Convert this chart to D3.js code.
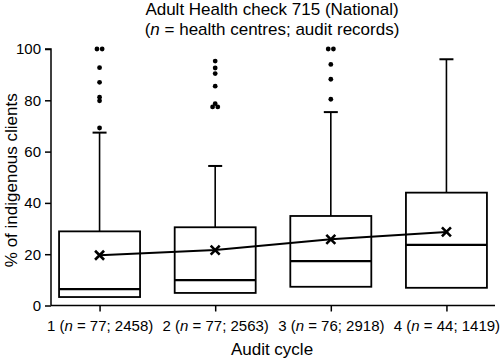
<!DOCTYPE html>
<html><head><meta charset="utf-8">
<script src="https://cdn.jsdelivr.net/npm/d3@7"></script>
<style>body{margin:0;background:#fff}svg{display:block}text{font-family:"Liberation Sans",Arial,sans-serif;fill:#000}</style>
</head><body>
<script>
const categories = ["1", "2", "3", "4"];
const centres = [77, 77, 76, 44];
const records = [2458, 2563, 2918, 1419];
const q1 = [3.3, 4.9, 7.3, 6.9];
const median = [6.4, 9.9, 17.3, 23.6];
const q3 = [28.9, 30.5, 34.9, 44.0];
const whiskerHigh = [67.4, 54.4, 75.4, 96.0];
const means = [19.6, 21.6, 25.8, 28.7];
// outliers: category index, value, horizontal offset group
const outlierCat = [0,0,0,0,0,0,0, 1,1,1,1,1,1,1, 2,2,2,2,2];
const outlierVal = [100,100,92.7,87,81.2,79.8,69.2, 95.3,92.6,90.4,85.5,78.7,77.4,77.4, 100,100,94,88.2,80.4];
const outlierOff = [-1,1,0,0,0,0,0, 0,0,0,0,0,-1,1, -1,1,0,0,0];
const yTicks = [0, 20, 40, 60, 80, 100];

const W = 500, H = 363;
const svg = d3.select("body").append("svg").attr("width", W).attr("height", H);
const x = d3.scalePoint().domain(categories).range([51, 495]).padding(0.42);
const y = d3.scaleLinear().domain([0, 100]).range([305.5, 49]);
const bw = 81;

// axes
const yAxis = d3.axisLeft(y).tickValues(yTicks).tickSize(6).tickPadding(4);
const gy = svg.append("g").attr("transform", "translate(51,0)").call(yAxis);
gy.select(".domain").attr("d", `M-6,${y(100)}H0V${y(0)}`);
gy.selectAll("text").style("font-size", "15px");
gy.selectAll("line, path").attr("stroke", "#000").attr("stroke-width", 1.5);

const xAxis = d3.axisBottom(x).tickSize(6).tickPadding(9).tickFormat(() => "");
const gx = svg.append("g").attr("transform", `translate(0,${y(0)})`).call(xAxis);
gx.select(".domain").attr("d", `M51,0H495`);
gx.selectAll("line, path").attr("stroke", "#000").attr("stroke-width", 1.5);
gx.selectAll(".tick").each(function(d, i) {
  const t = d3.select(this).select("text").text(null).style("font-size", "15px");
  t.append("tspan").text(categories[i] + " (");
  t.append("tspan").style("font-style", "italic").text("n");
  t.append("tspan").text(" = " + centres[i] + "; " + records[i] + ")");
});

// boxes
categories.forEach((c, i) => {
  const cx = x(c);
  svg.append("line").attr("x1", cx).attr("x2", cx).attr("y1", y(q3[i])).attr("y2", y(whiskerHigh[i]))
    .attr("stroke", "#000").attr("stroke-width", 1.6);
  svg.append("line").attr("x1", cx - 7).attr("x2", cx + 7).attr("y1", y(whiskerHigh[i])).attr("y2", y(whiskerHigh[i]))
    .attr("stroke", "#000").attr("stroke-width", 2);
  svg.append("rect").attr("x", cx - bw / 2).attr("width", bw).attr("y", y(q3[i])).attr("height", y(q1[i]) - y(q3[i]))
    .attr("fill", "none").attr("stroke", "#000").attr("stroke-width", 1.8);
  svg.append("line").attr("x1", cx - bw / 2).attr("x2", cx + bw / 2).attr("y1", y(median[i])).attr("y2", y(median[i]))
    .attr("stroke", "#000").attr("stroke-width", 2.2);
});

// outliers
outlierVal.forEach((v, k) => {
  svg.append("circle").attr("cx", x(categories[outlierCat[k]]) + outlierOff[k] * 2.6).attr("cy", y(v)).attr("r", 2.4).attr("fill", "#000");
});

// mean line
const line = d3.line().x((d, i) => x(categories[i])).y(d => y(d));
svg.append("path").attr("d", line(means)).attr("fill", "none").attr("stroke", "#000").attr("stroke-width", 2);
means.forEach((m, i) => {
  const cx = x(categories[i]), cy = y(m), s = 4.5;
  svg.append("path").attr("d", `M${cx - s},${cy - s}L${cx + s},${cy + s}M${cx - s},${cy + s}L${cx + s},${cy - s}`)
    .attr("stroke", "#000").attr("stroke-width", 2.6).attr("fill", "none");
});

// titles
const title = svg.append("text").attr("x", 272).attr("y", 15).attr("text-anchor", "middle").style("font-size", "17px");
title.text("Adult Health check 715 (National)");
const sub = svg.append("text").attr("x", 272).attr("y", 35).attr("text-anchor", "middle").style("font-size", "17px");
sub.append("tspan").text("(");
sub.append("tspan").style("font-style", "italic").text("n");
sub.append("tspan").text(" = health centres; audit records)");

svg.append("text").attr("x", 272).attr("y", 355).attr("text-anchor", "middle").style("font-size", "17px").text("Audit cycle");
svg.append("text").attr("transform", `translate(17,${(y(0) + y(100)) / 2 + 3}) rotate(-90)`).attr("text-anchor", "middle")
  .style("font-size", "17px").text("% of indigenous clients");
</script>
</body></html>
